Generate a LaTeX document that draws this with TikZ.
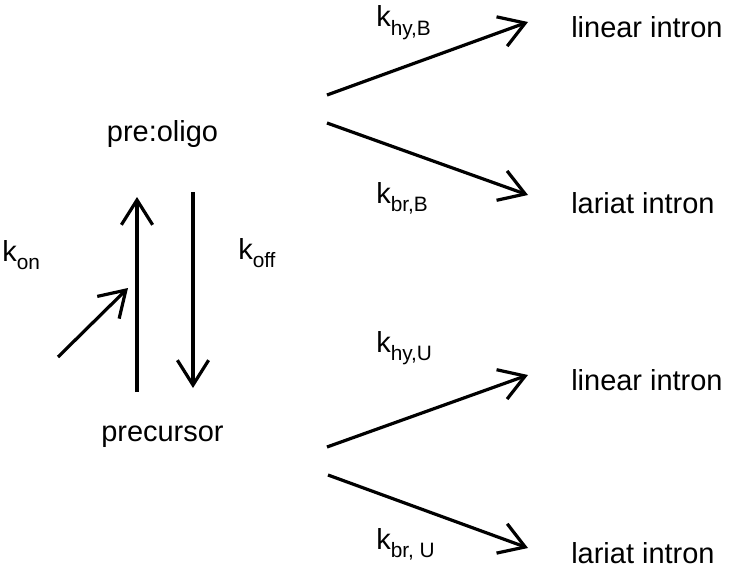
\documentclass[tikz,border=0pt]{standalone}
\usepackage{fontspec}
\setmainfont{Liberation Sans}
\usetikzlibrary{arrows.meta,positioning}
\newcommand{\rconst}[1]{k\raisebox{-0.28em}{\fontsize{14.8}{16}\selectfont #1}}

\begin{document}
\begin{tikzpicture}[
    x=0.025cm, y=-0.025cm,
    species/.style={
      anchor=base west,
      inner sep=0pt,
      font=\fontsize{20.6}{24}\selectfont
    },
    ratelbl/.style={
      anchor=base west,
      inner sep=0pt,
      font=\fontsize{20.6}{24}\selectfont
    },
    arr/.style={
      -{Straight Barb[length=0.62cm, width=0.78cm]},
      line width=0.08cm
    }
  ]
  \useasboundingbox (0,0) rectangle (732,572);

  % Species
  \node[species] (oligo) at (106.7,141) {pre:oligo};
  \node[species] (prec)  at (101,441.5) {precursor};
  \node[species] (linB)  at (571,37)    {linear intron};
  \node[species] (larB)  at (571,213)   {lariat intron};
  \node[species] (linU)  at (571,390)   {linear intron};
  \node[species] (larU)  at (571,563)   {lariat intron};

  % Rate constants
  \node[ratelbl] (kon)  at (2,261.5) {\rconst{on}};
  \node[ratelbl] (koff) at (238,259) {\rconst{off}};
  \node[ratelbl] (khyB) at (376,27)  {\rconst{hy,B}};
  \node[ratelbl] (kbrB) at (376,203) {\rconst{br,B}};
  \node[ratelbl] (khyU) at (376,352) {\rconst{hy,U}};
  \node[ratelbl] (kbrU) at (376,549) {\rconst{br, U}};

  % Arrow ends
  \coordinate (upS)   at (137,392);
  \coordinate (upE)   at (137,197);
  \coordinate (downS) at (193,192);
  \coordinate (downE) at (193,388);
  \coordinate (onS)   at (58,357);
  \coordinate (onE)   at (128,288);
  \coordinate (oligoA) at (327,95);
  \coordinate (oligoB) at (327,123);
  \coordinate (precA)  at (327,447);
  \coordinate (precB)  at (328,475);
  \coordinate (linBtip) at (528,22);
  \coordinate (larBtip) at (528,195);
  \coordinate (linUtip) at (528,375);
  \coordinate (larUtip) at (528,548);

  % Arrows
  \draw[arr] (upS) -- (upE);
  \draw[arr] (downS) -- (downE);
  \draw[arr] (onS) -- (onE);
  \draw[arr] (oligoA) -- (linBtip);
  \draw[arr] (oligoB) -- (larBtip);
  \draw[arr] (precA)  -- (linUtip);
  \draw[arr] (precB)  -- (larUtip);

\end{tikzpicture}
\end{document}
